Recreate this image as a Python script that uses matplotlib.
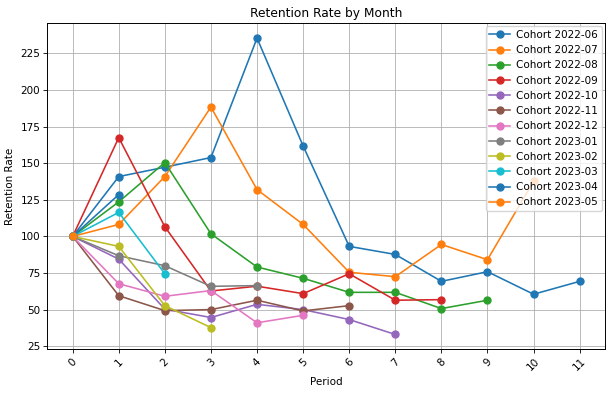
import matplotlib
matplotlib.use("Agg")
import matplotlib.pyplot as plt

periods = list(range(12))
cohorts = ["Cohort 2022-06", "Cohort 2022-07", "Cohort 2022-08", "Cohort 2022-09",
           "Cohort 2022-10", "Cohort 2022-11", "Cohort 2022-12", "Cohort 2023-01",
           "Cohort 2023-02", "Cohort 2023-03", "Cohort 2023-04", "Cohort 2023-05"]

c_2022_06 = [100, 140.9, 147.3, 153.9, 235.5, 161.8, 93.2, 87.7, 69.3, 75.9, 60.5, 69.3]
c_2022_07 = [100, 108.2, 140.9, 188.4, 132.0, 108.2, 75.5, 72.5, 94.5, 84.1, 137.7]
c_2022_08 = [100, 123.6, 150.5, 101.8, 79.1, 71.4, 61.8, 61.8, 50.7, 56.4]
c_2022_09 = [100, 167.5, 106.6, 62.7, 66.0, 60.9, 74.5, 56.4, 56.8]
c_2022_10 = [100, 84.5, 50.3, 44.6, 53.6, 50.0, 43.2, 33.0]
c_2022_11 = [100, 59.5, 49.3, 50.0, 56.4, 49.1, 52.7]
c_2022_12 = [100, 67.7, 59.1, 63.0, 41.0, 46.1]
c_2023_01 = [100, 86.8, 80.0, 65.9, 66.4]
c_2023_02 = [100, 93.2, 52.7, 37.7]
c_2023_03 = [100, 116.4, 74.5]
c_2023_04 = [100, 128.6]
c_2023_05 = [100]

series = [c_2022_06, c_2022_07, c_2022_08, c_2022_09, c_2022_10, c_2022_11,
          c_2022_12, c_2023_01, c_2023_02, c_2023_03, c_2023_04, c_2023_05]

fs = 7.5
fig = plt.figure(figsize=(6.12, 3.93), dpi=100)
ax = fig.add_axes([0.0773, 0.1112, 0.9886 - 0.0773, 0.9407 - 0.1112])

for name, vals in zip(cohorts, series):
    ax.plot(periods[:len(vals)], vals, marker="o", markersize=5.0,
            linewidth=1.15, label=name)

ax.set_title("Retention Rate by Month", fontsize=8.8, pad=4.5)
ax.set_xlabel("Period", fontsize=fs, labelpad=3)
ax.set_ylabel("Retention Rate", fontsize=fs, labelpad=4)
ax.set_xticks(periods)
ax.set_xticklabels([str(p) for p in periods], rotation=45)
ax.set_yticks([25, 50, 75, 100, 125, 150, 175, 200, 225])
ax.tick_params(labelsize=fs, length=2.6, width=0.6, pad=2.5)
ax.grid(True, color="#b0b0b0", linewidth=0.6)
for s in ax.spines.values():
    s.set_linewidth(0.7)
ax.legend(loc="upper right", fontsize=fs, borderpad=0.35, labelspacing=0.5,
          handlelength=2.0, handletextpad=0.6, borderaxespad=0.3)

fig.savefig("out.png", dpi=100)
